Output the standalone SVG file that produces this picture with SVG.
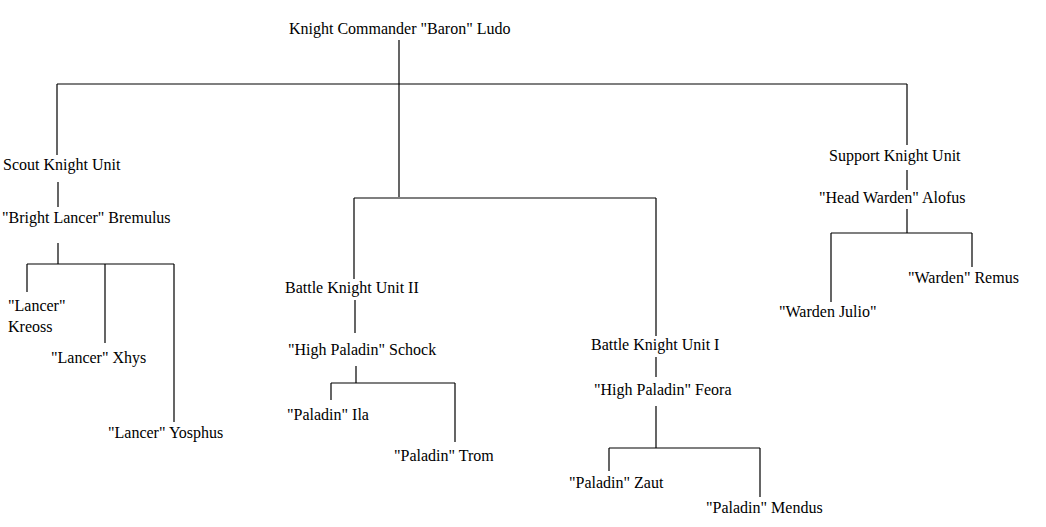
<svg xmlns="http://www.w3.org/2000/svg" width="1046" height="527" viewBox="0 0 1046 527">
<style>text{font-family:"Liberation Serif","Times New Roman",serif;font-size:16px;fill:#000}.c{stroke:#000;stroke-width:1.2;fill:none}</style>
<rect width="1046" height="527" fill="#fff"/>
<g id="connectors" class="c">
<path d="M399 40V197M57 84H907M57 84V155M58 182V207M58 243V264M27 264H174M27 264V292M105 264V343M174 264V422"/>
<path d="M354 198H656M354 198V279M355 300V333M356 366V383M331 383H455M331 383V400M455 383V442"/>
<path d="M656 198V336M656 357V377M656 406V448M609 448H760M609 448V471M760 448V497"/>
<path d="M907 84V145M907 170V190M907 209V233M831 233H972M831 233V302M972 233V267"/>
</g>
<g id="n-ludo"><text x="289" y="34">Knight Commander "Baron" Ludo</text></g>
<g id="n-scout"><text x="3" y="170">Scout Knight Unit</text></g>
<g id="n-bremulus"><text x="2" y="223">"Bright Lancer" Bremulus</text></g>
<g id="n-kreoss"><text x="8" y="311">"Lancer"</text><text x="8" y="332">Kreoss</text></g>
<g id="n-xhys"><text x="51" y="363">"Lancer" Xhys</text></g>
<g id="n-yosphus"><text x="108" y="438">"Lancer" Yosphus</text></g>
<g id="n-bku2"><text x="285" y="293">Battle Knight Unit II</text></g>
<g id="n-schock"><text x="288" y="355">"High Paladin" Schock</text></g>
<g id="n-ila"><text x="287" y="420">"Paladin" Ila</text></g>
<g id="n-trom"><text x="394" y="461">"Paladin" Trom</text></g>
<g id="n-bku1"><text x="591" y="350">Battle Knight Unit I</text></g>
<g id="n-feora"><text x="594" y="395">"High Paladin" Feora</text></g>
<g id="n-zaut"><text x="569" y="488">"Paladin" Zaut</text></g>
<g id="n-mendus"><text x="706" y="513">"Paladin" Mendus</text></g>
<g id="n-support"><text x="829" y="161">Support Knight Unit</text></g>
<g id="n-alofus"><text x="819" y="203">"Head Warden" Alofus</text></g>
<g id="n-remus"><text x="908" y="283">"Warden" Remus</text></g>
<g id="n-julio"><text x="779" y="317">"Warden Julio"</text></g>
</svg>
